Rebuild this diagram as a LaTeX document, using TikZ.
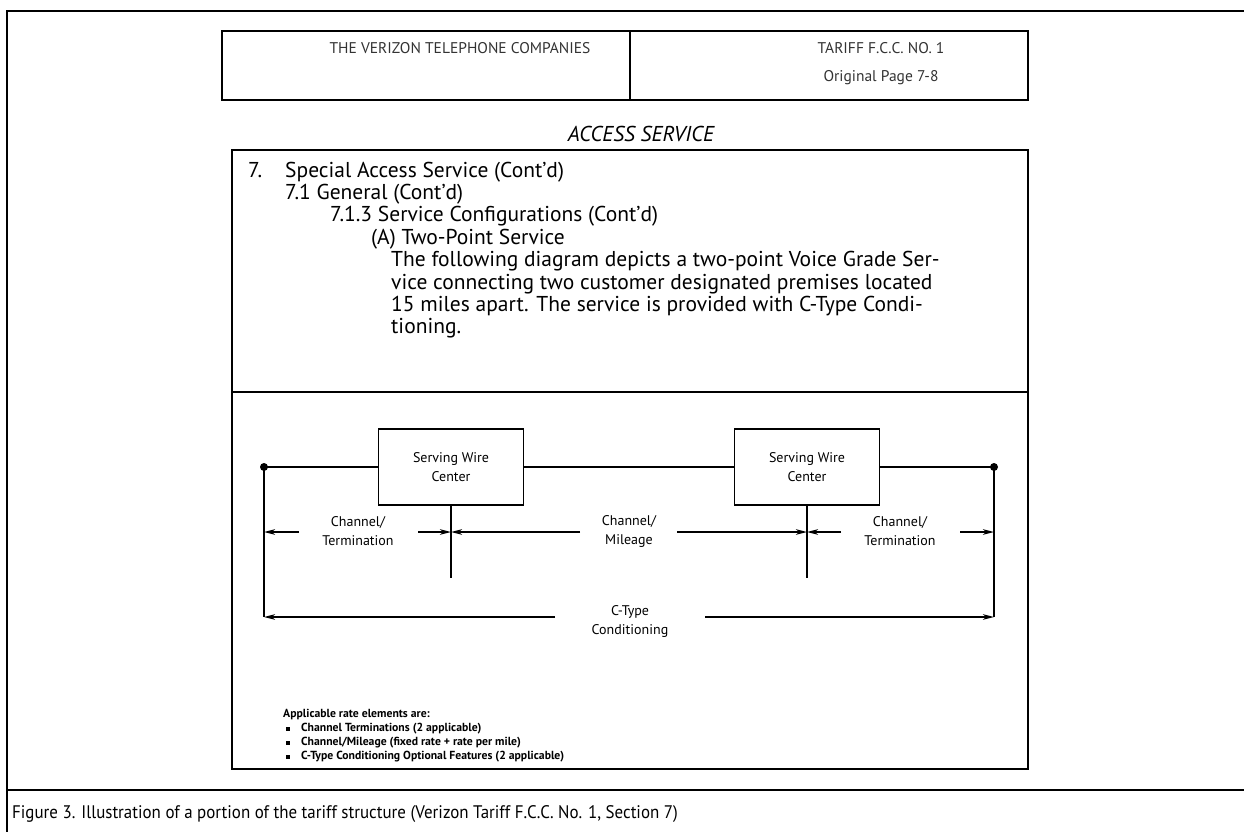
\documentclass[tikz,border=0pt]{standalone}
\usepackage{fontspec}
\setmainfont{PT Sans}
\newfontfamily\capfont{PT Sans}[FakeStretch=0.93]
\usetikzlibrary{arrows.meta}
\begin{document}
\begin{tikzpicture}[x=1pt,y=-1pt,
  frame/.style={line width=2.4pt},
  boxline/.style={line width=2pt},
  wire/.style={line width=1.6pt},
  arr/.style={wire,-{Stealth[length=11pt,width=5.5pt,inset=3pt]}},
  swc/.style={draw,line width=1.6pt,minimum width=145pt,minimum height=76pt,align=center,inner sep=0pt,font=\fontsize{14}{19}\selectfont},
  lbl/.style={align=center,inner sep=0pt,font=\fontsize{14}{19}\selectfont},
  body/.style={anchor=base west,inner sep=0pt,font=\fontsize{21.5}{22.4}\selectfont},
  hdr/.style={inner sep=0pt,text=black!80,font=\fontsize{15.5}{17}\selectfont},
  lst/.style={anchor=base west,inner sep=0pt,font=\bfseries\fontsize{11.7}{14}\selectfont},
  dot/.style={circle,fill,inner sep=0pt,minimum size=8pt}
]
\useasboundingbox (0,0) rectangle (1244,832);
% outer frame and caption separator
\coordinate (ftr) at (1244,11);
\coordinate (ftl) at (7,11);
\coordinate (fbl) at (7,832);
\draw[frame] (ftr) -- (ftl) -- (fbl);
\coordinate (cl) at (7,790);
\coordinate (cr) at (1244,790);
\draw[frame] (cl) -- (cr);
\node[anchor=base west,inner sep=0pt,font=\capfont\fontsize{18.2}{20}\selectfont] (cap) at (12,818)
  {Figure 3. Illustration of a portion of the tariff structure (Verizon Tariff F.C.C. No. 1, Section 7)};

% header
\node[boxline,draw,minimum width=806pt,minimum height=69pt,inner sep=0pt] (hdrbox) at (625,65.5) {};
\coordinate (hd1) at (630,31);
\coordinate (hd2) at (630,100);
\draw[boxline] (hd1) -- (hd2);
\node[hdr] (h1) at (460,48) {THE VERIZON TELEPHONE COMPANIES};
\node[hdr] (h2) at (881,48) {TARIFF F.C.C. NO. 1};
\node[hdr] (h3) at (881,78) {Original Page 7-8};
\node[inner sep=0pt,font=\itshape\fontsize{21.5}{24}\selectfont] (acc) at (641,134) {ACCESS SERVICE};

% main box
\node[boxline,draw,minimum width=796pt,minimum height=619pt,inner sep=0pt] (mainbox) at (630,459.5) {};
\coordinate (sepl) at (232,392);
\coordinate (sepr) at (1028,392);
\draw[boxline] (sepl) -- (sepr);

\node[body] (t0) at (248,177) {7.};
\node[body] (t1) at (285,177) {Special Access Service (Cont’d)};
\node[body] (t2) at (285,199.4) {7.1 General (Cont’d)};
\node[body] (t3) at (330,221.8) {7.1.3 Service Configurations (Cont’d)};
\node[body] (t4) at (371,244.2) {(A) Two-Point Service};
\node[body] (t5) at (391,266.6) {The following diagram depicts a two-point Voice Grade Ser-};
\node[body] (t6) at (391,289) {vice connecting two customer designated premises located};
\node[body] (t7) at (391,311.4) {15 miles apart. The service is provided with C-Type Condi-};
\node[body] (t8) at (391,333.8) {tioning.};

% diagram
\node[swc] (swcL) at (451,467) {Serving Wire\\Center};
\node[swc] (swcR) at (807,467) {Serving Wire\\Center};
\node[dot] (dL) at (264,467) {};
\node[dot] (dR) at (994,467) {};
\draw[wire] (dL.center) -- (swcL.west);
\draw[wire] (swcL.east) -- (swcR.west);
\draw[wire] (swcR.east) -- (dR.center);
\coordinate (bL) at (264,617);
\coordinate (bR) at (994,617);
\draw[wire] (dL.center) -- (bL);
\draw[wire] (dR.center) -- (bR);
\coordinate (sL) at (451,578);
\coordinate (sR) at (807,578);
\draw[wire] (swcL.south) -- (sL);
\draw[wire] (swcR.south) -- (sR);

% arrow row
\coordinate (aL) at (264,532);
\coordinate (aSL) at (451,532);
\coordinate (aSR) at (807,532);
\coordinate (aR) at (994,532);
\node[lbl] (ct1) at (358,531) {Channel/\\Termination};
\node[lbl] (cm) at (629,531) {Channel/\\Mileage};
\node[lbl] (ct2) at (900,531) {Channel/\\Termination};
\coordinate (ct1w) at (299,532);
\coordinate (ct1e) at (418,532);
\coordinate (cmw) at (580,532);
\coordinate (cme) at (677,532);
\coordinate (ct2w) at (841,532);
\coordinate (ct2e) at (960,532);
\draw[arr] (ct1w) -- (aL);
\draw[arr] (ct1e) -- (aSL);
\draw[arr] (cmw) -- (aSL);
\draw[arr] (cme) -- (aSR);
\draw[arr] (ct2w) -- (aSR);
\draw[arr] (ct2e) -- (aR);

% C-type row
\node[lbl] (cty) at (630,621) {C-Type\\Conditioning};
\coordinate (cyw) at (555,617);
\coordinate (cye) at (705,617);
\draw[arr] (cyw) -- (bL);
\draw[arr] (cye) -- (bR);

% list
\node[lst] (l0) at (283,717) {Applicable rate elements are:};
\node[lst] (b1) at (286,731) {\raisebox{0.5pt}{\rule{3.5pt}{3.5pt}}};
\node[lst] (l1) at (301,731) {Channel Terminations (2 applicable)};
\node[lst] (b2) at (286,745) {\raisebox{0.5pt}{\rule{3.5pt}{3.5pt}}};
\node[lst] (l2) at (301,745) {Channel/Mileage (fixed rate + rate per mile)};
\node[lst] (b3) at (286,759) {\raisebox{0.5pt}{\rule{3.5pt}{3.5pt}}};
\node[lst] (l3) at (301,759) {C-Type Conditioning Optional Features (2 applicable)};
\end{tikzpicture}
\end{document}
